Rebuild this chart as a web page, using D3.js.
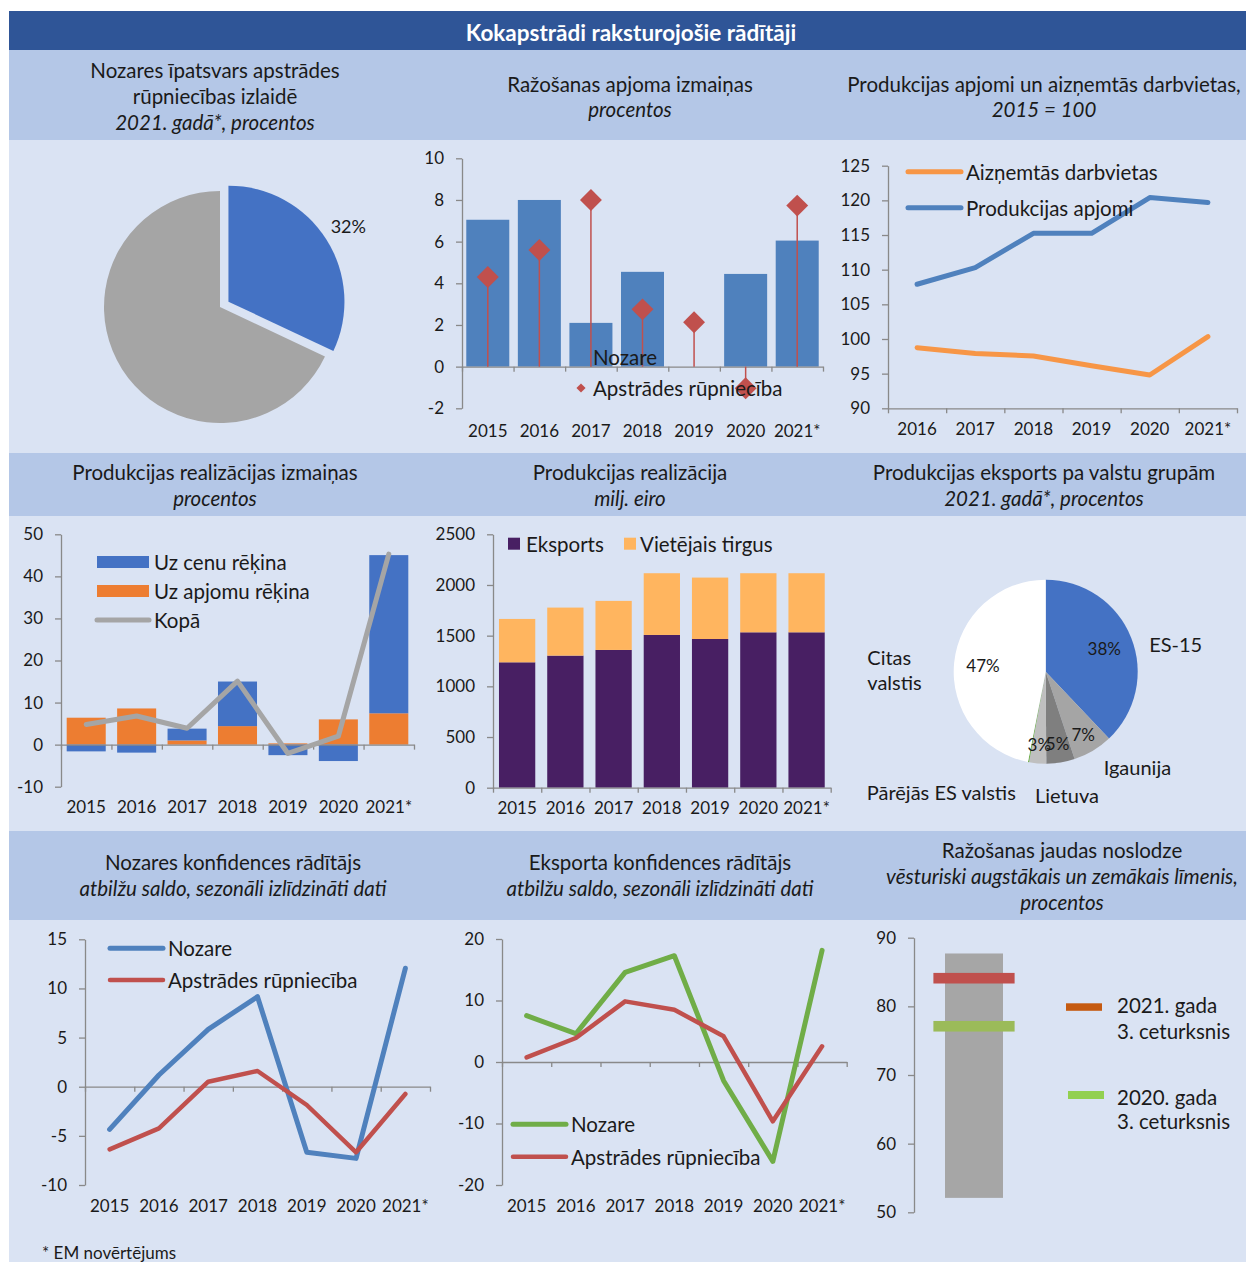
<!DOCTYPE html>
<html>
<head>
<meta charset="utf-8">
<script src="https://cdn.jsdelivr.net/npm/d3@7"></script>
<style>
  body { margin: 0; background: #fff; }
  svg text { font-family: Lato, "Open Sans", sans-serif; fill: #1a1a1a; }
</style>
</head>
<body>
<svg id="chart"></svg>
<script>
// Categories
var years = ["2015", "2016", "2017", "2018", "2019", "2020", "2021*"];
var years6 = ["2016", "2017", "2018", "2019", "2020", "2021*"];

// Nozares īpatsvars apstrādes rūpniecībā, %
var shareNames = ["Nozare", "Pārējā apstrādes rūpniecība"];
var shareValues = [32, 68];

// Ražošanas apjoma izmaiņas, %
var prodNozare = [7.05, 8.0, 2.1, 4.55, 0, 4.45, 6.05];
var prodApstrade = [4.3, 5.6, 8.0, 2.75, 2.13, -1.04, 7.73];

// Produkcijas apjomi un aizņemtās darbvietas, 2015 = 100
var jobsIndex = [98.75, 97.9, 97.55, 96.15, 94.8, 100.35];
var volumeIndex = [107.9, 110.3, 115.25, 115.25, 120.4, 119.7];

// Produkcijas realizācijas izmaiņas, %
var salesPrice = [-1.6, -1.9, 2.8, 10.6, -2.5, -3.9, 37.6];
var salesVolume = [6.4, 8.6, 1.0, 4.4, 0.3, 6.0, 7.45];
var salesTotal = [4.8, 6.8, 3.9, 15.1, -2.1, 2.0, 45.3];

// Produkcijas realizācija, milj. eiro
var salesExport = [1237, 1303, 1359, 1507, 1467, 1533, 1533];
var salesLocal = [428, 474, 484, 609, 606, 583, 583];

// Eksports pa valstu grupām 2021, %
var exportGroups = ["ES-15", "Igaunija", "Lietuva", "Pārējās ES valstis", "", "Citas valstis"];
var exportShares = [38, 7, 5, 3, 0.2, 47];

// Nozares konfidences rādītājs
var confNozare = [-4.34, 1.19, 5.84, 9.16, -6.67, -7.29, 12.05];
var confApstrade = [-6.37, -4.24, 0.51, 1.6, -1.86, -6.67, -0.74];

// Eksporta konfidences rādītājs
var expConfNozare = [7.53, 4.6, 14.57, 17.28, -3.04, -16.16, 18.15];
var expConfApstrade = [0.75, 3.9, 9.86, 8.5, 4.17, -9.65, 2.55];

// Ražošanas jaudas noslodze, %
var capacityCat = ["Noslodze"];
var capacityRange = [52.1, 87.7];
var capacity2021 = 84.1;
var capacity2020 = 77.1;

var axisColor = "#898989";

var svg = d3.select("#chart")
  .attr("width", 1246)
  .attr("height", 1262);

// ---------- background blocks ----------
var bg = svg.append("g");
bg.append("rect").attr("x", 9).attr("y", 11).attr("width", 1237).attr("height", 39).attr("fill", "#2F5597");
[[50, 90], [453, 63], [831, 89]].forEach(function(r) {
  bg.append("rect").attr("x", 9).attr("y", r[0]).attr("width", 1237).attr("height", r[1]).attr("fill", "#B4C7E7");
});
[[140, 313], [516, 315], [920, 342]].forEach(function(r) {
  bg.append("rect").attr("x", 9).attr("y", r[0]).attr("width", 1237).attr("height", r[1]).attr("fill", "#DAE3F3");
});

svg.append("text")
  .attr("x", 631).attr("y", 32)
  .attr("text-anchor", "middle").attr("dominant-baseline", "central")
  .style("font-size", "22.5px").style("font-weight", "bold").style("fill", "#fff")
  .text("Kokapstrādi raksturojošie rādītāji");

// headers: [centerX, [[y, text, italic]...]]
var headers = [
  [215, [[70, "Nozares īpatsvars apstrādes", false], [96, "rūpniecības izlaidē", false], [122, "2021. gadā*, procentos", true]]],
  [630, [[84, "Ražošanas apjoma izmaiņas", false], [109, "procentos", true]]],
  [1044, [[84, "Produkcijas apjomi un aizņemtās darbvietas,", false], [109, "2015 = 100", true]]],
  [215, [[472, "Produkcijas realizācijas izmaiņas", false], [498, "procentos", true]]],
  [630, [[472, "Produkcijas realizācija", false], [498, "milj. eiro", true]]],
  [1044, [[472, "Produkcijas eksports pa valstu grupām", false], [498, "2021. gadā*, procentos", true]]],
  [233, [[862, "Nozares konfidences rādītājs", false], [888, "atbilžu saldo, sezonāli izlīdzināti dati", true]]],
  [660, [[862, "Eksporta konfidences rādītājs", false], [888, "atbilžu saldo, sezonāli izlīdzināti dati", true]]],
  [1062, [[850, "Ražošanas jaudas noslodze", false], [876, "vēsturiski augstākais un zemākais līmenis,", true], [902, "procentos", true]]]
];
headers.forEach(function(h) {
  h[1].forEach(function(line) {
    svg.append("text")
      .attr("x", h[0]).attr("y", line[0])
      .attr("text-anchor", "middle").attr("dominant-baseline", "central")
      .style("font-size", "20.5px")
      .style("font-style", line[2] ? "italic" : "normal")
      .text(line[1]);
  });
});

// ---------- helpers ----------
function styleAxis(g) {
  g.select(".domain").attr("stroke", axisColor).attr("stroke-width", 1.3);
  g.selectAll(".tick line").attr("stroke", axisColor).attr("stroke-width", 1.3);
  g.selectAll(".tick text").style("font-size", "17px").attr("fill", "#1a1a1a");
}

function yAxis(scale, x, ticks) {
  var g = svg.append("g")
    .attr("transform", `translate(${x},0)`)
    .call(d3.axisLeft(scale).tickValues(ticks).tickSize(6).tickSizeOuter(0).tickPadding(12)
      .tickFormat(function(d) { return String(d); }));
  styleAxis(g);
  return g;
}

// axis line with ticks on the category borders
function categoryAxis(x0, x1, n, y) {
  var s = d3.scaleLinear().domain([0, n]).range([x0, x1]);
  var g = svg.append("g")
    .attr("transform", `translate(0,${y})`)
    .call(d3.axisBottom(s).ticks(n).tickSize(5).tickSizeOuter(0).tickFormat(""));
  styleAxis(g);
}

function categoryLabels(scale, cats, y) {
  var off = scale.bandwidth ? scale.bandwidth() / 2 : 0;
  svg.append("g").selectAll("text")
    .data(cats)
    .join("text")
    .attr("x", d => scale(d) + off)
    .attr("y", y)
    .attr("text-anchor", "middle")
    .attr("dominant-baseline", "central")
    .style("font-size", "17px")
    .text(d => d);
}

function band(cats, x0, x1, p) {
  return d3.scaleBand().domain(cats).range([x0, x1]).paddingInner(p).paddingOuter(p / 2);
}

function points(cats, x0, x1) {
  return d3.scalePoint().domain(cats).range([x0, x1]).padding(0.5);
}

function drawLine(x, y, cats, values, color, width) {
  var line = d3.line().x((d, i) => x(cats[i])).y(d => y(d));
  svg.append("path")
    .datum(values)
    .attr("d", line)
    .attr("fill", "none")
    .attr("stroke", color)
    .attr("stroke-width", width)
    .attr("stroke-linejoin", "round")
    .attr("stroke-linecap", "round");
}

function legendLine(x, y, color, label, width) {
  svg.append("line")
    .attr("x1", x).attr("x2", x + 53).attr("y1", y).attr("y2", y)
    .attr("stroke", color).attr("stroke-width", width || 5).attr("stroke-linecap", "round");
  legendText(x + 58, y, label);
}

function legendText(x, y, label) {
  svg.append("text")
    .attr("x", x).attr("y", y)
    .attr("dominant-baseline", "central")
    .style("font-size", "20.5px")
    .text(label);
}

// ---------- 1. pie: nozares īpatsvars ----------
(function() {
  var cx = 220, cy = 307, r = 116;
  var arcs = d3.pie().sort(null).value(d => d)(shareValues);
  var arc = d3.arc().innerRadius(0).outerRadius(r);
  var colors = ["#4472C4", "#A5A5A5"];
  var g = svg.append("g").attr("transform", `translate(${cx},${cy})`);
  g.selectAll("path")
    .data(arcs)
    .join("path")
    .attr("d", arc)
    .attr("fill", (d, i) => colors[i])
    .attr("transform", function(d, i) {
      var mid = (d.startAngle + d.endAngle) / 2, e = i === 0 ? 10 : 0;
      return `translate(${e * Math.sin(mid)},${-e * Math.cos(mid)})`;
    });
  var a0 = arcs[0], mid0 = (a0.startAngle + a0.endAngle) / 2;
  g.append("text")
    .attr("x", 152 * Math.sin(mid0))
    .attr("y", -152 * Math.cos(mid0))
    .attr("text-anchor", "middle").attr("dominant-baseline", "central")
    .style("font-size", "18px")
    .text(shareValues[0] + "%");
})();

// ---------- 2. ražošanas apjoma izmaiņas ----------
(function() {
  var x = band(years, 462, 823, 0.166);
  var y = d3.scaleLinear().domain([-2, 10]).range([408.3, 158.3]);
  yAxis(y, 462, d3.range(-2, 11, 2));
  svg.append("g").selectAll("rect")
    .data(prodNozare)
    .join("rect")
    .attr("x", (d, i) => x(years[i]))
    .attr("width", x.bandwidth())
    .attr("y", d => y(Math.max(0, d)))
    .attr("height", d => Math.abs(y(d) - y(0)))
    .attr("fill", "#4F81BD");
  categoryAxis(462, 823, years.length, y(0));
  categoryLabels(x, years, 430);
  var cxp = i => x(years[i]) + x.bandwidth() / 2;
  var g = svg.append("g");
  g.selectAll("line")
    .data(prodApstrade)
    .join("line")
    .attr("x1", (d, i) => cxp(i)).attr("x2", (d, i) => cxp(i))
    .attr("y1", y(0)).attr("y2", d => y(d))
    .attr("stroke", "#C0504D").attr("stroke-width", 1.5);
  var diamond = d3.symbol(d3.symbolSquare, 240);
  g.selectAll("path")
    .data(prodApstrade)
    .join("path")
    .attr("d", diamond)
    .attr("transform", (d, i) => `translate(${cxp(i)},${y(d)}) rotate(45)`)
    .attr("fill", "#C0504D");
  // legend
  svg.append("rect").attr("x", 577).attr("y", 352).attr("width", 10).attr("height", 10).attr("fill", "#4F81BD");
  legendText(593, 357, "Nozare");
  svg.append("path").attr("d", d3.symbol(d3.symbolSquare, 42)).attr("transform", "translate(581,388) rotate(45)").attr("fill", "#C0504D");
  legendText(593, 388, "Apstrādes rūpniecība");
})();

// ---------- 3. produkcijas apjomi un darbvietas ----------
(function() {
  var x = points(years6, 888, 1237);
  var xb = band(years6, 888, 1237, 0);
  var y = d3.scaleLinear().domain([90, 125]).range([408.3, 165.7]);
  yAxis(y, 888, d3.range(90, 126, 5));
  categoryAxis(888, 1237, years6.length, y(90));
  categoryLabels(xb, years6, 428.5);
  drawLine(x, y, years6, jobsIndex, "#F79646", 5);
  drawLine(x, y, years6, volumeIndex, "#4F81BD", 5);
  legendLine(908, 171.7, "#F79646", "Aizņemtās darbvietas");
  legendLine(908, 207.7, "#4F81BD", "Produkcijas apjomi");
})();

// ---------- 4. produkcijas realizācijas izmaiņas ----------
(function() {
  var x = band(years, 61, 414, 0.226);
  var y = d3.scaleLinear().domain([-10, 50]).range([786.7, 534.3]);
  yAxis(y, 61, d3.range(-10, 51, 10));
  var rows = years.map((yr, i) => ({ year: yr, volume: salesVolume[i], price: salesPrice[i] }));
  var series = d3.stack().keys(["volume", "price"]).offset(d3.stackOffsetDiverging)(rows);
  var colors = { volume: "#ED7D31", price: "#4472C4" };
  svg.append("g").selectAll("g")
    .data(series)
    .join("g")
    .attr("fill", s => colors[s.key])
    .selectAll("rect")
    .data(s => s)
    .join("rect")
    .attr("x", d => x(d.data.year))
    .attr("width", x.bandwidth())
    .attr("y", d => y(Math.max(d[0], d[1])))
    .attr("height", d => Math.abs(y(d[0]) - y(d[1])));
  categoryAxis(61, 414, years.length, y(0));
  categoryLabels(x, years, 806.7);
  var xp = points(years, 61, 414);
  drawLine(xp, y, years, salesTotal, "#A5A5A5", 5);
  svg.append("rect").attr("x", 97).attr("y", 556).attr("width", 52).attr("height", 12).attr("fill", "#4472C4");
  legendText(154, 561.5, "Uz cenu rēķina");
  svg.append("rect").attr("x", 97).attr("y", 585).attr("width", 52).attr("height", 12).attr("fill", "#ED7D31");
  legendText(154, 591, "Uz apjomu rēķina");
  svg.append("line").attr("x1", 97).attr("x2", 149).attr("y1", 620).attr("y2", 620)
    .attr("stroke", "#A5A5A5").attr("stroke-width", 5).attr("stroke-linecap", "round");
  legendText(154, 620, "Kopā");
})();

// ---------- 5. produkcijas realizācija ----------
(function() {
  var x = band(years, 493, 830.7, 0.248);
  var y = d3.scaleLinear().domain([0, 2500]).range([787.7, 534.3]);
  yAxis(y, 493, d3.range(0, 2501, 500));
  var rows = years.map((yr, i) => ({ year: yr, exp: salesExport[i], loc: salesLocal[i] }));
  var series = d3.stack().keys(["exp", "loc"])(rows);
  var colors = { exp: "#481F63", loc: "#FFB55F" };
  svg.append("g").selectAll("g")
    .data(series)
    .join("g")
    .attr("fill", s => colors[s.key])
    .selectAll("rect")
    .data(s => s)
    .join("rect")
    .attr("x", d => x(d.data.year))
    .attr("width", x.bandwidth())
    .attr("y", d => y(d[1]))
    .attr("height", d => y(d[0]) - y(d[1]));
  categoryAxis(493, 830.7, years.length, y(0));
  categoryLabels(x, years, 807.7);
  svg.append("rect").attr("x", 508).attr("y", 537.7).attr("width", 12).attr("height", 12).attr("fill", "#481F63");
  legendText(526, 543.7, "Eksports");
  svg.append("rect").attr("x", 624).attr("y", 537.7).attr("width", 12).attr("height", 12).attr("fill", "#FFB55F");
  legendText(640, 543.7, "Vietējais tirgus");
})();

// ---------- 6. eksports pa valstu grupām ----------
(function() {
  var cx = 1045.7, cy = 671.7, r = 92;
  var colors = ["#4472C4", "#A5A5A5", "#7F7F7F", "#BFBFBF", "#70AD47", "#FFFFFF"];
  var arcs = d3.pie().sort(null).value(d => d)(exportShares);
  var arc = d3.arc().innerRadius(0).outerRadius(r);
  var g = svg.append("g").attr("transform", `translate(${cx},${cy})`);
  g.selectAll("path")
    .data(arcs)
    .join("path")
    .attr("d", arc)
    .attr("fill", (d, i) => colors[i]);
  // percent labels
  g.selectAll("text.pct")
    .data(arcs.filter(d => exportGroups[d.index] !== ""))
    .join("text")
    .attr("class", "pct")
    .attr("x", d => (d.data > 20 ? 63 : 73) * Math.sin((d.startAngle + d.endAngle) / 2))
    .attr("y", d => -(d.data > 20 ? 63 : 73) * Math.cos((d.startAngle + d.endAngle) / 2))
    .attr("text-anchor", "middle").attr("dominant-baseline", "central")
    .style("font-size", "17px")
    .text(d => d.data + "%");
  // outer labels: radius, anchor, nudge
  var place = {
    "ES-15": [106, "start", 5, 12],
    "Igaunija": [111, "start", 1, 0],
    "Lietuva": [125, "middle", 1, 0],
    "Pārējās ES valstis": [124, "end", -19, -3],
    "Citas valstis": [122, "start", -57, -3]
  };
  arcs.forEach(function(d) {
    var name = exportGroups[d.index];
    if (!name) return;
    var p = place[name], mid = (d.startAngle + d.endAngle) / 2;
    var tx = p[0] * Math.sin(mid) + p[2], ty = -p[0] * Math.cos(mid) + p[3];
    var words = name === "Citas valstis" ? ["Citas", "valstis"] : [name];
    words.forEach(function(w, k) {
      g.append("text")
        .attr("x", tx).attr("y", ty + k * 25)
        .attr("text-anchor", p[1]).attr("dominant-baseline", "central")
        .style("font-size", "20px")
        .text(w);
    });
  });
})();

// ---------- 7. nozares konfidences rādītājs ----------
(function() {
  var x = points(years, 85, 430);
  var xb = band(years, 85, 430, 0);
  var y = d3.scaleLinear().domain([-10, 15]).range([1185, 939.3]);
  yAxis(y, 85, d3.range(-10, 16, 5));
  categoryAxis(85, 430, years.length, y(0));
  categoryLabels(xb, years, 1205);
  drawLine(x, y, years, confNozare, "#4F81BD", 5);
  drawLine(x, y, years, confApstrade, "#C0504D", 4.5);
  legendLine(110, 948.3, "#4F81BD", "Nozare");
  legendLine(110, 980, "#C0504D", "Apstrādes rūpniecība", 4.5);
})();

// ---------- 8. eksporta konfidences rādītājs ----------
(function() {
  var x = points(years, 502, 846.7);
  var xb = band(years, 502, 846.7, 0);
  var y = d3.scaleLinear().domain([-20, 20]).range([1185, 939]);
  yAxis(y, 502, d3.range(-20, 21, 10));
  categoryAxis(502, 846.7, years.length, y(0));
  categoryLabels(xb, years, 1205);
  drawLine(x, y, years, expConfNozare, "#70AD47", 5);
  drawLine(x, y, years, expConfApstrade, "#C0504D", 4.5);
  legendLine(513, 1124.3, "#70AD47", "Nozare");
  legendLine(513, 1156.7, "#C0504D", "Apstrādes rūpniecība", 4.5);
})();

// ---------- 9. ražošanas jaudas noslodze ----------
(function() {
  var x = d3.scaleBand().domain(capacityCat).range([945, 1003]);
  var y = d3.scaleLinear().domain([50, 90]).range([1212.3, 937.7]);
  yAxis(y, 914, d3.range(50, 91, 10));
  svg.append("rect")
    .attr("x", x(capacityCat[0]))
    .attr("width", x.bandwidth())
    .attr("y", y(capacityRange[1]))
    .attr("height", y(capacityRange[0]) - y(capacityRange[1]))
    .attr("fill", "#A6A6A6");
  var mw = x.bandwidth() * 1.4, mx = x(capacityCat[0]) + x.bandwidth() / 2 - mw / 2;
  [[capacity2021, "#C0504D"], [capacity2020, "#9BBB59"]].forEach(function(m) {
    svg.append("rect")
      .attr("x", mx).attr("width", mw)
      .attr("y", y(m[0]) - 5.3).attr("height", 10.6)
      .attr("fill", m[1]);
  });
  svg.append("rect").attr("x", 1066).attr("y", 1003.3).attr("width", 36).attr("height", 7.5).attr("fill", "#C55A11");
  legendText(1117, 1005, "2021. gada");
  legendText(1117, 1030.7, "3. ceturksnis");
  svg.append("rect").attr("x", 1068).attr("y", 1091).attr("width", 36).attr("height", 8).attr("fill", "#92D050");
  legendText(1117, 1096.7, "2020. gada");
  legendText(1117, 1120.7, "3. ceturksnis");
})();

svg.append("text")
  .attr("x", 42).attr("y", 1252)
  .attr("dominant-baseline", "central")
  .style("font-size", "17px")
  .text("* EM novērtējums");
</script>
</body>
</html>
